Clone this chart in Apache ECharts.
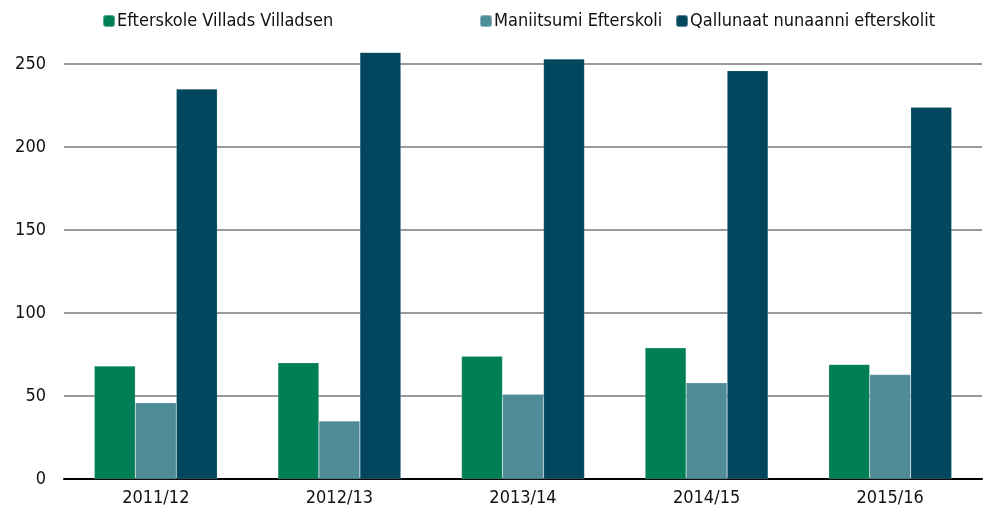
<!DOCTYPE html>
<html>
<head>
<meta charset="utf-8">
<script src="https://cdn.jsdelivr.net/npm/echarts@6/dist/echarts.min.js"></script>
<style>
  html, body { margin: 0; padding: 0; background: #fff; }
  #chart { width: 987px; height: 518px; }
</style>
</head>
<body>
<div id="chart"></div>
<script>
var years = ['2011/12', '2012/13', '2013/14', '2014/15', '2015/16'];
var seriesNames = ['Efterskole Villads Villadsen', 'Maniitsumi Efterskoli', 'Qallunaat nunaanni efterskolit'];
var villads = [68, 70, 74, 79, 69];
var maniitsoq = [46, 35, 51, 58, 63];
var qallunaat = [235, 257, 253, 246, 224];
var colors = ['#007f56', '#4e8c98', '#02475e'];
var legendLeft = [97, 474, 670];

var font = "'DejaVu Sans Condensed', 'Liberation Sans Narrow', sans-serif";

var legends = seriesNames.map(function (n, i) {
  return {
    data: [n],
    left: legendLeft[i],
    top: 7,
    itemWidth: 12,
    itemHeight: 12,
    itemGap: 4,
    textStyle: { fontFamily: font, fontSize: 18, color: '#111', padding: [0, 0, 0, -3] },
    selectedMode: false
  };
});

var values = [villads, maniitsoq, qallunaat];

var option = {
  animation: false,
  color: colors,
  legend: legends,
  grid: { left: 64, right: 5, top: 64, bottom: 39 },
  xAxis: {
    type: 'category',
    data: years,
    axisTick: { show: false },
    axisLine: { lineStyle: { color: '#000', width: 2 } },
    axisLabel: { fontFamily: font, fontSize: 18, color: '#111', margin: 10 }
  },
  yAxis: {
    type: 'value',
    min: 0,
    max: 250,
    interval: 50,
    axisLabel: { fontFamily: font, fontSize: 18, color: '#111', margin: 18 },
    splitLine: { lineStyle: { color: '#9a9a9a', width: 2 } },
    axisLine: { show: false },
    axisTick: { show: false }
  },
  series: seriesNames.map(function (n, i) {
    return {
      name: n,
      type: 'bar',
      data: values[i],
      barWidth: 41,
      barGap: '0%',
      clip: false,
      itemStyle: { color: colors[i], borderColor: 'rgba(255,255,255,0.35)', borderWidth: 0.5 }
    };
  })
};

var myChart = echarts.init(document.getElementById('chart'));
myChart.setOption(option);
</script>
</body>
</html>
